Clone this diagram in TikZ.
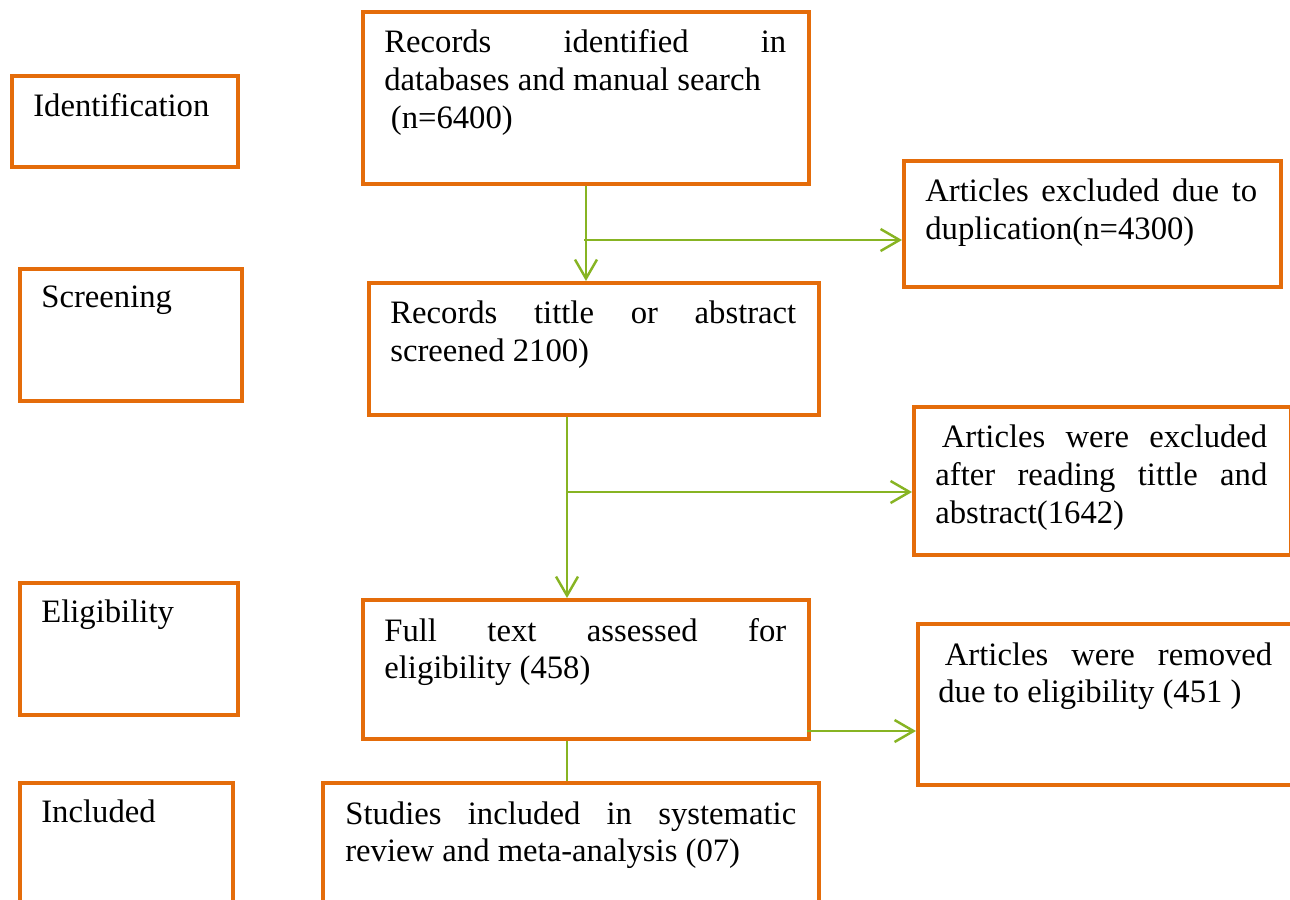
\documentclass[tikz,border=0pt]{standalone}
\usepackage{fontspec}
\setmainfont{Liberation Serif}
\usetikzlibrary{arrows.meta}
\definecolor{boxorange}{RGB}{228,108,10}
\definecolor{flowgreen}{RGB}{135,180,35}

\tikzset{
  box/.style={draw=boxorange, line width=2.3pt, anchor=north west, inner sep=0pt},
  txt/.style={anchor=base west, inner sep=0pt, font=\fontsize{18.6}{21.5}\selectfont},
  para/.style={txt, align=justify},
  flow/.style={draw=flowgreen, line width=1.4pt, -{Straight Barb[length=0.38cm,width=0.44cm]}},
  link/.style={draw=flowgreen, line width=1.4pt}
}

\begin{document}
\begin{tikzpicture}[x=0.02cm, y=-0.02cm]
    \useasboundingbox (0,0) rectangle (1290,899);
    \clip (0,0) rectangle (1290,899);

    % stage boxes
    \node[box, minimum width=4.52cm, minimum height=1.82cm] (ident) at (10,74) {};
    \node[box, minimum width=4.44cm, minimum height=2.64cm] (screen) at (18,267) {};
    \node[box, minimum width=4.36cm, minimum height=2.64cm] (elig) at (18,581) {};
    \node[box, minimum width=4.26cm, minimum height=3.2cm] (incl) at (18,781) {};

    \node[txt] (ident-t) at ([shift={(0.46cm,-0.86cm)}]ident.north west) {Identification};
    \node[txt] (screen-t) at ([shift={(0.46cm,-0.82cm)}]screen.north west) {Screening};
    \node[txt] (elig-t) at ([shift={(0.46cm,-0.82cm)}]elig.north west) {Eligibility};
    \node[txt] (incl-t) at ([shift={(0.46cm,-0.82cm)}]incl.north west) {Included};

    % main flow
    \node[box, minimum width=8.92cm, minimum height=3.44cm] (rec) at (361,10) {};
    \node[box, minimum width=9.0cm, minimum height=2.64cm] (scr) at (367,281) {};
    \node[box, minimum width=8.92cm, minimum height=2.78cm] (full) at (361,598) {};
    \node[box, minimum width=9.92cm, minimum height=3.2cm] (stud) at (321,781) {};

    \node[para, text width=8.04cm] (rec-t) at ([shift={(0.46cm,-0.86cm)}]rec.north west)
        {Records identified in\linebreak databases and manual search\newline\hspace*{0.2em}(n=6400)};
    \node[para, text width=8.12cm] (scr-t) at ([shift={(0.46cm,-0.86cm)}]scr.north west)
        {Records tittle or abstract\linebreak screened 2100)};
    \node[para, text width=8.04cm] (full-t) at ([shift={(0.46cm,-0.86cm)}]full.north west)
        {Full text assessed for\linebreak eligibility (458)};
    \node[para, text width=9.02cm] (stud-t) at ([shift={(0.48cm,-0.86cm)}]stud.north west)
        {Studies included in systematic\linebreak review and meta-analysis (07)};

    % exclusions
    \node[box, minimum width=7.54cm, minimum height=2.52cm] (dup) at (902,159) {};
    \node[box, minimum width=7.54cm, minimum height=2.96cm] (excl) at (912,405) {};
    \node[box, minimum width=7.8cm, minimum height=3.22cm] (rem) at (916,622) {};

    \node[para, text width=6.64cm] (dup-t) at ([shift={(0.46cm,-0.86cm)}]dup.north west)
        {Articles excluded due to\linebreak duplication(n=4300)};
    \node[para, text width=6.64cm] (excl-t) at ([shift={(0.46cm,-0.86cm)}]excl.north west)
        {\hspace*{0.2em}Articles were excluded\linebreak after reading tittle and\linebreak abstract(1642)};
    \node[para, text width=6.68cm] (rem-t) at ([shift={(0.44cm,-0.86cm)}]rem.north west)
        {\hspace*{0.2em}Articles were removed\linebreak due to eligibility (451 )};

    % connectors
    \coordinate (j1) at (584,240);
    \coordinate (j2) at (567,492);
    \coordinate (j3) at (807,731);

    \draw[flow] (rec.south) -- (rec.south |- scr.north);
    \draw[flow] (j1) -- (j1 -| dup.west);
    \draw[flow] (scr.south -| j2) -- (j2 |- full.north);
    \draw[flow] (j2) -- (j2 -| excl.west);
    \draw[link] (full.south -| j2) -- (j2 |- stud.north);
    \draw[flow] (j3) -- (j3 -| rem.west);
\end{tikzpicture}
\end{document}
